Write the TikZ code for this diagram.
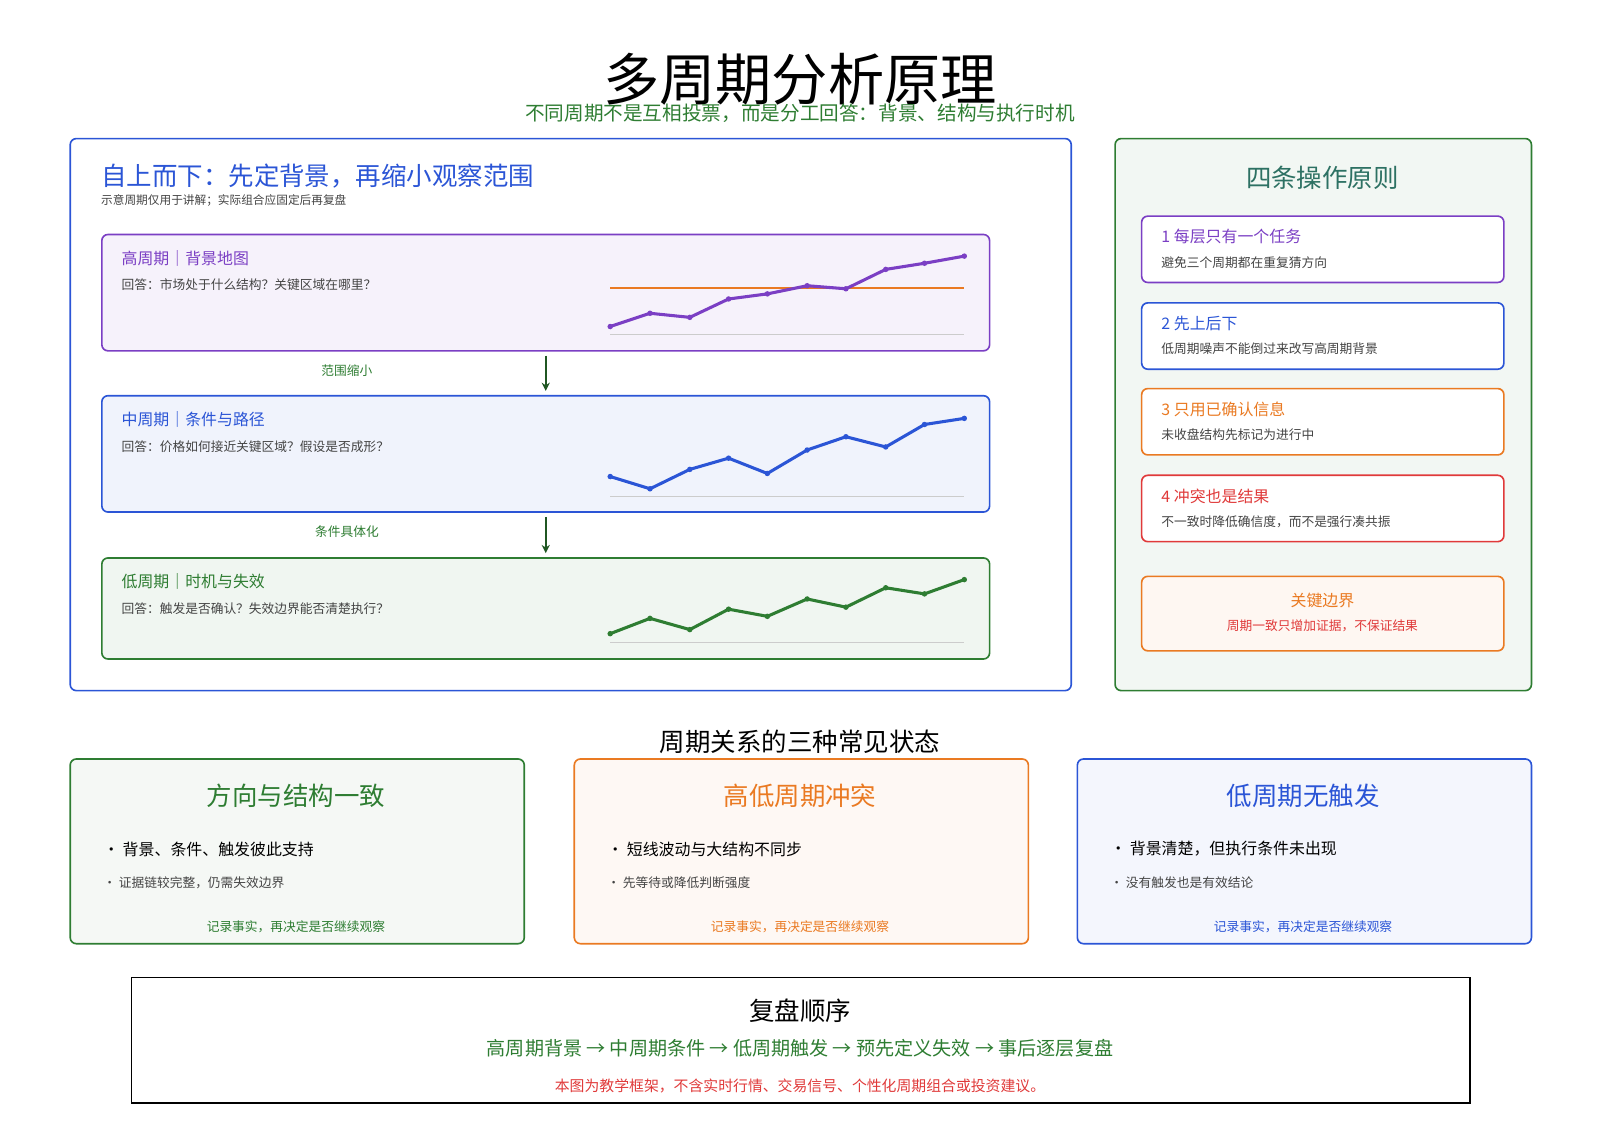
\documentclass[tikz,border=0pt]{standalone}
\usepackage{fontspec}
\setmainfont{Noto Sans CJK SC}
\usetikzlibrary{positioning, arrows.meta}
\definecolor{cblue}{HTML}{2B55D6}
\definecolor{cgreen}{HTML}{2E7D32}
\definecolor{cpurple}{HTML}{7B3FC4}
\definecolor{corange}{HTML}{EA7A22}
\definecolor{cred}{HTML}{E03A3A}
\definecolor{cgray}{HTML}{444444}
\newcommand{\fs}[1]{\fontsize{\dimexpr #1pt*104/100\relax}{\dimexpr #1pt*104/100\relax}\selectfont}

\begin{document}
\begin{tikzpicture}[x=1pt,y=-1pt,
  panel/.style={draw, line width=1.6pt, rounded corners=6pt, anchor=north west, inner sep=0pt},
  lbl/.style={anchor=west, inner sep=0pt},
  chart/.style={line width=3pt, line join=round},
  dot/.style={circle, fill, inner sep=1.9pt}]
  \useasboundingbox (0,0) rectangle (1568,1109);

  % title
  \node[inner sep=0pt] (title) at (784,78) {\fs{53}多周期分析原理};
  \node[inner sep=0pt, text=cgreen] (subtitle) at (784,111) {\fs{18.5}不同周期不是互相投票，而是分工回答：背景、结构与执行时机};

  % left frame
  \node[panel, draw=cblue, fill=white, minimum width=981pt, minimum height=541pt] (left) at (68,135) {};
  \node[lbl, text=cblue] (lefthead) at (99,173) {\fs{24}自上而下：先定背景，再缩小观察范围};
  \node[lbl, text=cgray] (leftnote) at (99,196) {\fs{11}示意周期仅用于讲解；实际组合应固定后再复盘};

  % period boxes
  \node[panel, draw=cpurple, fill=cpurple!7, minimum width=870pt, minimum height=114pt] (high) at (99,229) {};
  \node[panel, draw=cblue, fill=cblue!7, minimum width=870pt, minimum height=114pt] (mid) at (99,387) {};
  \node[panel, draw=cgreen, fill=cgreen!7, minimum width=870pt, minimum height=99pt] (low) at (99,546) {};

  \node[lbl, text=cpurple] at (119,253) {\fs{15}高周期｜背景地图};
  \node[lbl, text=cgray] at (119,279) {\fs{12}回答：市场处于什么结构？关键区域在哪里？};
  \node[lbl, text=cblue] at (119,411) {\fs{15}中周期｜条件与路径};
  \node[lbl, text=cgray] at (119,438) {\fs{12}回答：价格如何接近关键区域？假设是否成形？};
  \node[lbl, text=cgreen] at (119,570) {\fs{15}低周期｜时机与失效};
  \node[lbl, text=cgray] at (119,596) {\fs{12}回答：触发是否确认？失效边界能否清楚执行？};

  % charts
  \draw[gray!40, line width=1pt] (598,328) -- (945,328);
  \draw[corange, line width=1.6pt] (598,282) -- (945,282);
  \draw[chart, cpurple] (598,320) -- (637,307) -- (676,311) -- (714,293) -- (752,288) -- (791,280) -- (829,283) -- (868,264) -- (906,258) -- (945,251);
  \foreach \x/\y in {598/320,637/307,676/311,714/293,752/288,791/280,829/283,868/264,906/258,945/251}
    \node[dot, cpurple] at (\x,\y) {};
  \draw[gray!40, line width=1pt] (598,487) -- (945,487);
  \draw[chart, cblue] (598,467) -- (637,479) -- (676,460) -- (714,449) -- (752,464) -- (791,441) -- (829,428) -- (868,438) -- (906,416) -- (945,410);
  \foreach \x/\y in {598/467,637/479,676/460,714/449,752/464,791/441,829/428,868/438,906/416,945/410}
    \node[dot, cblue] at (\x,\y) {};
  \draw[gray!40, line width=1pt] (598,630) -- (945,630);
  \draw[chart, cgreen] (598,621) -- (637,606) -- (676,617) -- (714,597) -- (752,604) -- (791,587) -- (829,595) -- (868,576) -- (906,582) -- (945,568);
  \foreach \x/\y in {598/621,637/606,676/617,714/597,752/604,791/587,829/595,868/576,906/582,945/568}
    \node[dot, cgreen] at (\x,\y) {};

  % arrows between periods
  \draw[-{Stealth[length=8pt,width=8pt]}, cgreen!70!black, line width=2.2pt, shorten <=4pt, shorten >=4pt] (high.south) -- (mid.north);
  \draw[-{Stealth[length=8pt,width=8pt]}, cgreen!70!black, line width=2.2pt, shorten <=4pt, shorten >=4pt] (mid.south) -- (low.north);
  \node[inner sep=0pt, text=cgreen] at (340,363) {\fs{12}范围缩小};
  \node[inner sep=0pt, text=cgreen] at (340,521) {\fs{12}条件具体化};

  % right frame
  \node[panel, draw=cgreen, fill=cgreen!6, minimum width=408pt, minimum height=541pt] (right) at (1092,135) {};
  \node[inner sep=0pt, text=cgreen!70!cblue] at (1296,174) {\fs{24}四条操作原则};
  \foreach \n/\top/\col/\head/\desc in {
      p1/211/cpurple/1 每层只有一个任务/避免三个周期都在重复猜方向,
      p2/296/cblue/2 先上后下/低周期噪声不能倒过来改写高周期背景,
      p3/380/corange/3 只用已确认信息/未收盘结构先标记为进行中,
      p4/465/cred/4 冲突也是结果/不一致时降低确信度，而不是强行凑共振} {
    \node[panel, draw=\col, fill=white, minimum width=355pt, minimum height=65pt] (\n) at (1118,\top) {};
    \node[lbl, text=\col] at (1138,\top+21) {\fs{15}\head};
    \node[lbl, text=cgray] at (1138,\top+46) {\fs{12}\desc};
  }
  \node[panel, draw=corange, fill=corange!6, minimum width=355pt, minimum height=73pt] (bound) at (1118,564) {};
  \node[inner sep=0pt, text=corange] at (1296,588) {\fs{15}关键边界};
  \node[inner sep=0pt, text=cred] at (1296,613) {\fs{12}周期一致只增加证据，不保证结果};

  % three states
  \node[inner sep=0pt] (stateshead) at (784,727) {\fs{24}周期关系的三种常见状态};
  \foreach \n/\x/\col/\fillc/\head/\one/\two in {
      s1/68/cgreen/cgreen!5/方向与结构一致/背景、条件、触发彼此支持/证据链较完整，仍需失效边界,
      s2/562/corange/corange!5/高低周期冲突/短线波动与大结构不同步/先等待或降低判断强度,
      s3/1055/cblue/cblue!5/低周期无触发/背景清楚，但执行条件未出现/没有触发也是有效结论} {
    \node[panel, draw=\col, fill=\fillc, minimum width=445pt, minimum height=181pt] (\n) at (\x,743) {};
    \node[inner sep=0pt, text=\col] at (\x+222,780) {\fs{24}\head};
    \node[lbl] at (\x+33,832) {\fs{15}·\ \one};
    \node[lbl, text=cgray] at (\x+33,865) {\fs{12}·\ \two};
    \node[inner sep=0pt, text=\col] at (\x+222,908) {\fs{12}记录事实，再决定是否继续观察};
  }

  % review order
  \node[draw, line width=1.6pt, anchor=north west, minimum width=1312pt, minimum height=123pt, inner sep=0pt] (review) at (128,957) {};
  \node[inner sep=0pt] at (784,991) {\fs{24}复盘顺序};
  \node[inner sep=0pt, text=cgreen] at (784,1027) {\fs{18}高周期背景 → 中周期条件 → 低周期触发 → 预先定义失效 → 事后逐层复盘};
  \node[inner sep=0pt, text=cred] at (784,1064) {\fs{14}本图为教学框架，不含实时行情、交易信号、个性化周期组合或投资建议。};
\end{tikzpicture}
\end{document}
